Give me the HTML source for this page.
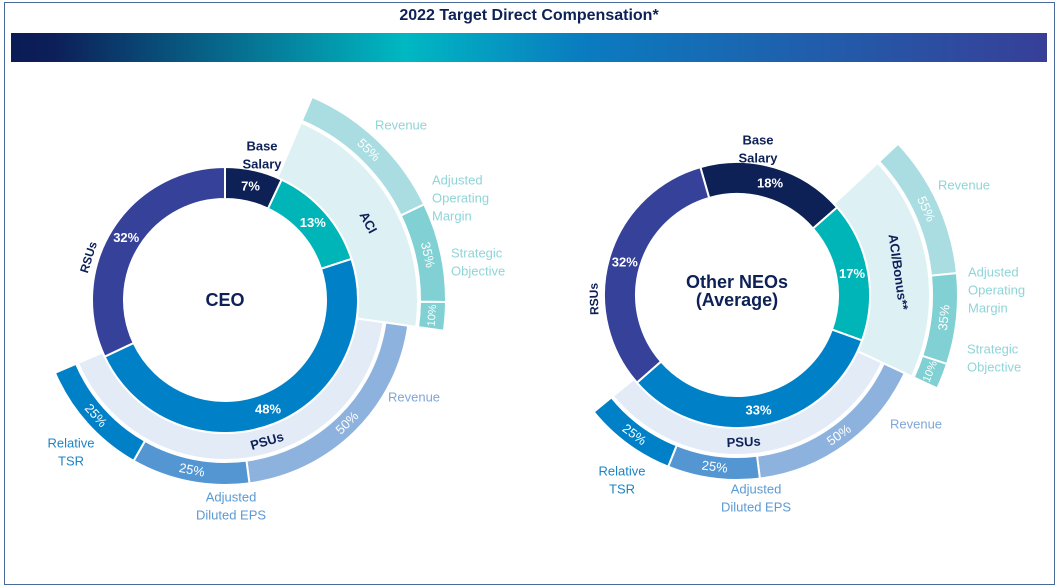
<!DOCTYPE html>
<html><head><meta charset="utf-8"><style>
html,body{margin:0;padding:0;background:#fff;}
svg{display:block;font-family:"Liberation Sans",sans-serif;}
</style></head><body>
<svg id="chart" width="1058" height="588" viewBox="0 0 1058 588" xmlns="http://www.w3.org/2000/svg">
<defs>
<linearGradient id="bar" x1="0" x2="1" y1="0" y2="0">
<stop offset="0" stop-color="#0a1c55"/><stop offset="0.04" stop-color="#0d1e58"/>
<stop offset="0.38" stop-color="#00b8c2"/><stop offset="0.55" stop-color="#0a7cc0"/>
<stop offset="1" stop-color="#373f97"/></linearGradient>
</defs>
<rect x="4.5" y="2.5" width="1050" height="582" fill="none" stroke="#4a6a9a" stroke-width="1"/>
<text x="529" y="20" text-anchor="middle" font-size="16" font-weight="bold" fill="#0d2157">2022 Target Direct Compensation*</text>
<rect x="11" y="33" width="1036" height="29" fill="url(#bar)"/>
<g id="ceo"></g>
<g id="neo"></g>
</svg>
<script>
// data
const componentNames = ["Base Salary","ACI","PSUs","RSUs"];
const ceoValues = [7,13,48,32];
const neoValues = [18,17,33,32];
const aciMetricNames = ["Revenue","Adjusted Operating Margin","Strategic Objective"];
const aciMetricValues = [55,35,10];
const psuMetricNames = ["Revenue","Adjusted Diluted EPS","Relative TSR"];
const psuMetricValues = [50,25,25];

const NS="http://www.w3.org/2000/svg";
function pt(cx,cy,r,a){const t=a*Math.PI/180;return [cx+r*Math.sin(t),cy-r*Math.cos(t)];}
function arc(cx,cy,r0,r1,a0,a1){
  const large=(a1-a0)>180?1:0;
  const p0=pt(cx,cy,r1,a0),p1=pt(cx,cy,r1,a1),p2=pt(cx,cy,r0,a1),p3=pt(cx,cy,r0,a0);
  return `M${p0[0]},${p0[1]}A${r1},${r1} 0 ${large} 1 ${p1[0]},${p1[1]}L${p2[0]},${p2[1]}A${r0},${r0} 0 ${large} 0 ${p3[0]},${p3[1]}Z`;
}
function path(g,d,fill){const p=document.createElementNS(NS,"path");p.setAttribute("d",d);p.setAttribute("fill",fill);p.setAttribute("stroke","#fff");p.setAttribute("stroke-width","2");g.appendChild(p);return p;}
function txt(g,x,y,s,size,fill,weight,rot,anchor){
  const t=document.createElementNS(NS,"text");
  t.setAttribute("x",x);t.setAttribute("y",y);t.setAttribute("font-size",size);t.setAttribute("fill",fill);
  t.setAttribute("text-anchor",anchor||"middle");t.setAttribute("dominant-baseline","central");
  if(weight)t.setAttribute("font-weight",weight);
  if(rot)t.setAttribute("transform",`rotate(${rot} ${x} ${y})`);
  t.textContent=s;g.appendChild(t);return t;
}
function multi(g,x,y,lines,size,fill,weight,anchor,name){
  lines.forEach((l,i)=>{const t=txt(g,x,y+i*18,l,size,fill,weight,0,anchor);
    
    });
}
const innerColors=["#0d2157","#00b5b8","#0080c6","#36419a"];
const aciColors=["#a9dde1","#80d0d4","#80d0d4"];
const psuColors=["#8eb2de","#5396d2","#0080c6"];

function draw(id,cx,cy,vals,startA,aciExt,opts){
  const g=document.getElementById(id);
  const tot=vals.reduce((a,b)=>a+b,0);
  const ang=[];let a=startA;
  vals.forEach(v=>{ang.push([a,a+v/tot*360]);a+=v/tot*360;});
  const r0=101,r1=133;
  const aciA0=ang[1][0]-2, aciA1=ang[1][1]+aciExt;
  const psuA0=aciA1, psuA1=ang[2][1]+2;
  const ab=path(g,arc(cx,cy,r1,193,aciA0,aciA1),"#ddf1f4");
  
  
  const pb=path(g,arc(cx,cy,r1,160,psuA0,psuA1),"#e3ebf7");
  
  
  let s=aciA0;const at=aciMetricValues.reduce((x,y)=>x+y,0);
  aciMetricValues.forEach((v,i)=>{
    const e=s+v/at*(aciA1-aciA0);
    const p=path(g,arc(cx,cy,195,221,s,e),aciColors[i]);
    
    
    const m=(s+e)/2;const q=pt(cx,cy,208,m);
    txt(g,q[0],q[1],v+"%",i==2?11:13,"#fff",null,m>90&&m<270?m-180:m);
    s=e;
  });
  s=psuA0;const pt2=psuMetricValues.reduce((x,y)=>x+y,0);
  psuMetricValues.forEach((v,i)=>{
    const e=s+v/pt2*(psuA1-psuA0);
    const p=path(g,arc(cx,cy,162,185,s,e),psuColors[i]);
    
    
    const m=(s+e)/2;const q=pt(cx,cy,173,m);
    txt(g,q[0],q[1],v+"%",13,"#fff",null,m>90&&m<270?m-180:m);
    s=e;
  });
  vals.forEach((v,i)=>{
    const p=path(g,arc(cx,cy,r0,r1,ang[i][0],ang[i][1]),innerColors[i]);
    
    
    const m=(ang[i][0]+ang[i][1])/2;const q=pt(cx,cy,117,m);
    txt(g,q[0],q[1],v+"%",13,"#fff","bold",0);
  });
  let m=(ang[1][0]+aciA1)/2;let q=pt(cx,cy,163,m);
  txt(g,q[0],q[1],opts.aciLabel,13,"#0d2157","bold",m>90&&m<270?m-180:m);
  m=(ang[2][0]+ang[2][1])/2+opts.psuShift;q=pt(cx,cy,147,m);
  txt(g,q[0],q[1],"PSUs",13,"#0d2157","bold",m>90&&m<270?m-180:m);
  m=(ang[3][0]+ang[3][1])/2+opts.rsuShift;q=pt(cx,cy,143,m);
  txt(g,q[0],q[1],"RSUs",12,"#0d2157","bold",m-360);
}
draw("ceo",225,300,ceoValues,0,26,{aciLabel:"ACI",psuShift:5,rsuShift:-15});
draw("neo",737,295,neoValues,-16,5,{aciLabel:"ACI/Bonus**",psuShift:8,rsuShift:-18});
const cg=document.getElementById("ceo"), ng=document.getElementById("neo");
txt(cg,225,300,"CEO",18,"#0d2157","bold",0);
multi(ng,737,282,["Other NEOs","(Average)"],18,"#0d2157","bold","middle","center-label");
multi(cg,262,146,["Base","Salary"],13,"#0d2157","bold","middle","base-salary-label");
multi(cg,401,125,["Revenue"],13,"#8fd5d8",null,"middle","aci-revenue-label");
multi(cg,432,180,["Adjusted","Operating","Margin"],13,"#8fd5d8",null,"start","aci-aom-label");
multi(cg,451,253,["Strategic","Objective"],13,"#8fd5d8",null,"start","aci-so-label");
multi(cg,388,397,["Revenue"],13,"#7fa6d8",null,"start","psu-revenue-label");
multi(cg,71,443,["Relative","TSR"],13,"#1c84c6",null,"middle","psu-tsr-label");
multi(cg,231,497,["Adjusted","Diluted EPS"],13,"#5a9ad4",null,"middle","psu-eps-label");
multi(ng,758,140,["Base","Salary"],13,"#0d2157","bold","middle","base-salary-label");
multi(ng,938,185,["Revenue"],13,"#8fd5d8",null,"start","aci-revenue-label");
multi(ng,968,272,["Adjusted","Operating","Margin"],13,"#8fd5d8",null,"start","aci-aom-label");
multi(ng,967,349,["Strategic","Objective"],13,"#8fd5d8",null,"start","aci-so-label");
multi(ng,890,424,["Revenue"],13,"#7fa6d8",null,"start","psu-revenue-label");
multi(ng,622,471,["Relative","TSR"],13,"#1c84c6",null,"middle","psu-tsr-label");
multi(ng,756,489,["Adjusted","Diluted EPS"],13,"#5a9ad4",null,"middle","psu-eps-label");
</script>
</body></html>
